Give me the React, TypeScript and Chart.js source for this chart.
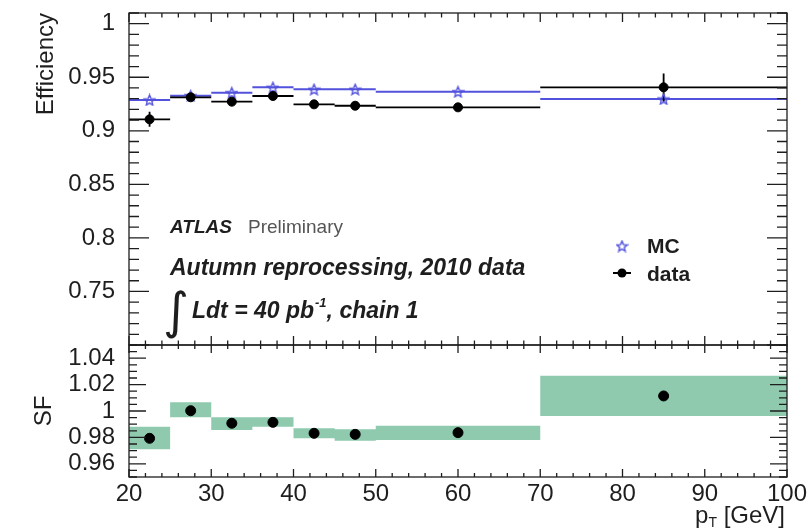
import React, { useEffect, useRef } from "react";
import { Chart, registerables } from "chart.js";

Chart.register(...registerables);

// pT bins [GeV]
const binLow = [20, 25, 30, 35, 40, 45, 50, 70];
const binHigh = [25, 30, 35, 40, 45, 50, 70, 100];
const binCenter = [22.5, 27.5, 32.5, 37.5, 42.5, 47.5, 60, 85];

// trigger efficiency, MC and data
const mcEff = [0.9288, 0.9328, 0.9356, 0.9406, 0.9388, 0.9388, 0.9365, 0.9297];
const mcErr = [0.001, 0.001, 0.001, 0.001, 0.001, 0.001, 0.001, 0.003];
const dataEff = [0.9107, 0.9313, 0.9272, 0.9325, 0.9247, 0.9234, 0.9219, 0.9406];
const dataErr = [0.007, 0.003, 0.003, 0.003, 0.002, 0.002, 0.002, 0.013];

// scale factor data/MC with its uncertainty band
const sfValue = [0.9793, 1.0002, 0.9907, 0.9914, 0.9831, 0.9823, 0.9836, 1.0114];
const sfBandLow = [0.971, 0.9952, 0.9856, 0.9881, 0.9793, 0.9775, 0.978, 0.9962];
const sfBandHigh = [0.9881, 1.0066, 0.9952, 0.9952, 0.9869, 0.9861, 0.9889, 1.0267];

// axis ticks
const xTicks = [20, 30, 40, 50, 60, 70, 80, 90, 100];
const effTicks = [0.75, 0.8, 0.85, 0.9, 0.95, 1];
const sfTicks = [0.96, 0.98, 1, 1.02, 1.04];

const FONT = "'Liberation Sans', Arial, Helvetica, sans-serif";
const MC_COLOR = "#5252dc";
const BAND_COLOR = "#8fcaaf";
const INK = "#1e1e1e";

type Pt = { x: number; y: number | null };

// horizontal bin-width bars plus vertical error bars, separated by gaps
function errorSegments(values: number[], errors: number[]): Pt[] {
  const pts: Pt[] = [];
  values.forEach((v, i) => {
    pts.push({ x: binLow[i], y: v }, { x: binHigh[i], y: v }, { x: binCenter[i], y: null });
    pts.push({ x: binCenter[i], y: v - errors[i] }, { x: binCenter[i], y: v + errors[i] }, { x: binCenter[i], y: null });
  });
  return pts;
}

function markers(values: number[]): Pt[] {
  return values.map((v, i) => ({ x: binCenter[i], y: v }));
}

// step outline over the bin edges (value held from each left edge)
function stepEdges(values: number[]): Pt[] {
  const pts: Pt[] = values.map((v, i) => ({ x: binLow[i], y: v }));
  pts.push({ x: binHigh[binHigh.length - 1], y: values[values.length - 1] });
  return pts;
}

function makeStar(color: string, size: number): HTMLCanvasElement {
  const c = document.createElement("canvas");
  c.width = size;
  c.height = size;
  const g = c.getContext("2d")!;
  g.strokeStyle = color;
  g.lineWidth = 1.4;
  const cx = size / 2;
  const cy = size / 2 + 0.6;
  const R = size / 2 - 1;
  const r = R * 0.45;
  g.beginPath();
  for (let k = 0; k < 10; k++) {
    const a = -Math.PI / 2 + (k * Math.PI) / 5;
    const rr = k % 2 === 0 ? R : r;
    const px = cx + rr * Math.cos(a);
    const py = cy + rr * Math.sin(a);
    if (k === 0) g.moveTo(px, py);
    else g.lineTo(px, py);
  }
  g.closePath();
  g.stroke();
  return c;
}

function stepValues(min: number, max: number, step: number): number[] {
  const n = Math.round((max - min) / step);
  return Array.from({ length: n + 1 }, (_, k) => +(min + k * step).toFixed(6));
}

function isMajor(v: number, majors: number[]) {
  return majors.some((t) => Math.abs(t - v) < 1e-6);
}

// fixed axis size, no extra room reserved for overhanging labels
function fixSize(width?: number, height?: number) {
  return (s: any) => {
    if (width !== undefined) s.width = width;
    if (height !== undefined) s.height = height;
    s.paddingTop = 0;
    s.paddingBottom = 0;
    s.paddingLeft = 0;
    s.paddingRight = 0;
  };
}

// ROOT-like frames with inward major/minor ticks on both panels
const framePlugin = {
  id: "panelFrames",
  afterDatasetsDraw(chart: any) {
    const ctx: CanvasRenderingContext2D = chart.ctx;
    const xs = chart.scales.x;
    const L = chart.chartArea.left;
    const R = chart.chartArea.right;
    const panels = [
      { s: chart.scales.yEff, minors: stepValues(0.7, 1.01, 0.01), majors: [0.7, ...effTicks], yMaj: 20, yMin: 10, xMaj: 9, xMin: 4.5 },
      { s: chart.scales.ySF, minors: stepValues(0.95, 1.05, 0.005), majors: sfTicks, yMaj: 17, yMin: 8, xMaj: 8, xMin: 4 },
    ];
    const xMinors = stepValues(20, 100, 2);
    ctx.save();
    ctx.strokeStyle = INK;
    ctx.lineWidth = 1.3;
    for (const p of panels) {
      const top = p.s.top;
      const bottom = p.s.bottom;
      ctx.strokeRect(L, top, R - L, bottom - top);
      ctx.beginPath();
      for (const v of p.minors) {
        const py = p.s.getPixelForValue(v);
        if (py < top - 0.5 || py > bottom + 0.5) continue;
        const len = isMajor(v, p.majors) ? p.yMaj : p.yMin;
        ctx.moveTo(L, py);
        ctx.lineTo(L + len, py);
        ctx.moveTo(R, py);
        ctx.lineTo(R - len, py);
      }
      for (const v of xMinors) {
        const px = xs.getPixelForValue(v);
        const len = isMajor(v, xTicks) ? p.xMaj : p.xMin;
        ctx.moveTo(px, top);
        ctx.lineTo(px, top + len);
        ctx.moveTo(px, bottom);
        ctx.lineTo(px, bottom - len);
      }
      ctx.stroke();
    }
    ctx.restore();
  },
};

const textPlugin = {
  id: "panelText",
  afterDraw(chart: any) {
    const ctx: CanvasRenderingContext2D = chart.ctx;
    const R = chart.chartArea.right;
    const bottom = chart.height;
    ctx.save();
    ctx.textBaseline = "alphabetic";
    ctx.textAlign = "left";
    ctx.fillStyle = INK;

    ctx.font = `italic bold 19px ${FONT}`;
    ctx.fillText("ATLAS", 170, 233);
    ctx.fillStyle = "#555";
    ctx.font = `19px ${FONT}`;
    ctx.fillText("Preliminary", 248, 233);

    ctx.fillStyle = INK;
    ctx.font = `italic bold 23px ${FONT}`;
    ctx.fillText("Autumn reprocessing, 2010 data", 170, 275);

    ctx.font = `50px 'DejaVu Sans', ${FONT}`;
    ctx.fillText("\u222B", 163, 328);

    ctx.font = `italic bold 23px ${FONT}`;
    let x = 192;
    const base = 318;
    ctx.fillText("Ldt = 40 pb", x, base);
    x += ctx.measureText("Ldt = 40 pb").width + 1;
    ctx.font = `italic bold 13px ${FONT}`;
    ctx.fillText("-1", x, base - 11);
    x += ctx.measureText("-1").width;
    ctx.font = `italic bold 23px ${FONT}`;
    ctx.fillText(", chain 1", x, base);

    // legend
    const star = makeStar(MC_COLOR, 13);
    ctx.drawImage(star, 622 - 6.5, 246 - 6.5);
    ctx.font = `bold 21px ${FONT}`;
    ctx.fillText("MC", 647, 253);
    ctx.strokeStyle = "#000";
    ctx.lineWidth = 2;
    ctx.beginPath();
    ctx.moveTo(613, 273);
    ctx.lineTo(631, 273);
    ctx.stroke();
    ctx.beginPath();
    ctx.arc(622, 273, 4.5, 0, Math.PI * 2);
    ctx.fillStyle = "#000";
    ctx.fill();
    ctx.fillStyle = INK;
    ctx.fillText("data", 647, 281);

    // x-axis title p_T [GeV], right aligned to the frame
    ctx.font = `24px ${FONT}`;
    const tail = " [GeV]";
    const wTail = ctx.measureText(tail).width;
    ctx.font = `14px ${FONT}`;
    const wSub = ctx.measureText("T").width;
    ctx.font = `24px ${FONT}`;
    const wP = ctx.measureText("p").width;
    const xEnd = R - 2;
    const tb = bottom - 6;
    ctx.fillText("p", xEnd - wTail - wSub - wP, tb);
    ctx.font = `14px ${FONT}`;
    ctx.fillText("T", xEnd - wTail - wSub, tb + 4);
    ctx.font = `24px ${FONT}`;
    ctx.fillText(tail, xEnd - wTail, tb);
    ctx.restore();
  },
};

export default function App() {
  const canvasRef = useRef<HTMLCanvasElement | null>(null);

  useEffect(() => {
    if (!canvasRef.current) return;
    const starStyle = makeStar(MC_COLOR, 13);
    const tickFont = { family: FONT, size: 24 };

    const chart = new Chart(canvasRef.current, {
      type: "line",
      data: {
        datasets: [
          {
            label: "data",
            data: markers(dataEff),
            yAxisID: "yEff",
            showLine: false,
            pointRadius: 4.5,
            pointBackgroundColor: "#000",
            pointBorderColor: "#000",
            order: 0,
          },
          {
            label: "SF",
            data: markers(sfValue),
            yAxisID: "ySF",
            showLine: false,
            pointRadius: 5,
            pointBackgroundColor: "#000",
            pointBorderColor: "#000",
            order: 0,
          },
          {
            label: "MC",
            data: markers(mcEff),
            yAxisID: "yEff",
            showLine: false,
            pointStyle: starStyle as any,
            pointRadius: 6,
            order: 1,
          },
          {
            label: "data errors",
            data: errorSegments(dataEff, dataErr),
            yAxisID: "yEff",
            borderColor: "#000",
            borderWidth: 1.8,
            pointRadius: 0,
            spanGaps: false,
            order: 2,
          },
          {
            label: "MC errors",
            data: errorSegments(mcEff, mcErr),
            yAxisID: "yEff",
            borderColor: MC_COLOR,
            borderWidth: 2,
            pointRadius: 0,
            spanGaps: false,
            order: 3,
          },
          {
            label: "SF band high",
            data: stepEdges(sfBandHigh),
            yAxisID: "ySF",
            stepped: "before",
            borderColor: "rgba(0,0,0,0)",
            backgroundColor: BAND_COLOR,
            fill: "+1",
            pointRadius: 0,
            order: 5,
          },
          {
            label: "SF band low",
            data: stepEdges(sfBandLow),
            yAxisID: "ySF",
            stepped: "before",
            borderColor: "rgba(0,0,0,0)",
            fill: false,
            pointRadius: 0,
            order: 6,
          },
        ] as any,
      },
      options: {
        responsive: true,
        maintainAspectRatio: false,
        animation: false,
        events: [],
        layout: { padding: { top: 13, right: 21, left: 0, bottom: 0 } },
        plugins: {
          legend: { display: false },
          tooltip: { enabled: false },
        },
        scales: {
          x: {
            type: "linear",
            position: "bottom",
            min: 20,
            max: 100,
            grid: { display: false, drawTicks: false },
            border: { display: false },
            afterBuildTicks: (s: any) => {
              s.ticks = xTicks.map((v) => ({ value: v }));
            },
            afterFit: fixSize(undefined, 52),
            ticks: {
              font: tickFont,
              color: INK,
              padding: 3,
              maxRotation: 0,
              autoSkip: false,
              callback: (v: any) => String(v),
            },
          },
          // lower panel is declared first: the layout stacks later left axes on top
          ySF: {
            type: "linear",
            position: "left",
            stack: "panels",
            stackWeight: 132,
            min: 0.95,
            max: 1.05,
            grid: { display: false, drawTicks: false },
            border: { display: false },
            afterBuildTicks: (s: any) => {
              s.ticks = sfTicks.map((v) => ({ value: v }));
            },
            afterFit: fixSize(129),
            ticks: {
              font: tickFont,
              color: INK,
              padding: 14,
              autoSkip: false,
              callback: (v: any) => String(v),
            },
            title: {
              display: true,
              text: "SF",
              align: "center",
              color: INK,
              font: { family: FONT, size: 24 },
              padding: { top: 30, bottom: 0 },
            },
          },
          yEff: {
            type: "linear",
            position: "left",
            stack: "panels",
            stackWeight: 332,
            min: 0.7,
            max: 1.01,
            grid: { display: false, drawTicks: false },
            border: { display: false },
            afterBuildTicks: (s: any) => {
              s.ticks = effTicks.map((v) => ({ value: v }));
            },
            afterFit: fixSize(129),
            ticks: {
              font: tickFont,
              color: INK,
              padding: 14,
              autoSkip: false,
              callback: (v: any) => String(v),
            },
            title: {
              display: true,
              text: "Efficiency",
              align: "end",
              color: INK,
              font: { family: FONT, size: 24 },
              padding: { top: 32, bottom: 0 },
            },
          },
        },
      } as any,
      plugins: [framePlugin, textPlugin],
    });

    return () => chart.destroy();
  }, []);

  return (
    <div style={{ position: "fixed", left: 0, top: 0, width: 808, height: 529, background: "#fff" }}>
      <canvas ref={canvasRef} />
    </div>
  );
}
